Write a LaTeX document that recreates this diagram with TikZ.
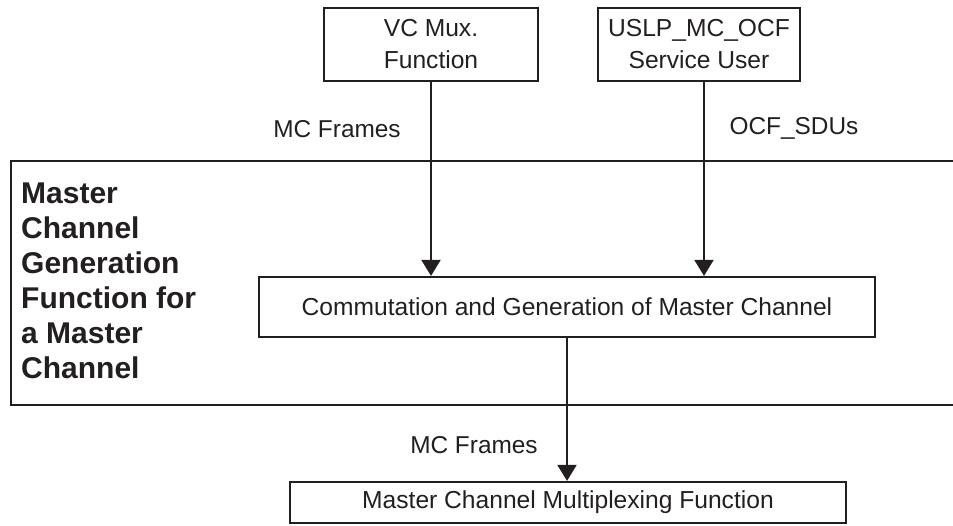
\documentclass[tikz,border=0pt]{standalone}
\usepackage{fontspec}
\setmainfont{Liberation Sans}
\usetikzlibrary{arrows.meta}
\definecolor{ink}{HTML}{231F20}
\begin{document}
\begin{tikzpicture}[x=1pt,y=-1pt,
  box/.style={draw=ink, line width=2.2pt, inner sep=0pt, align=center, text=ink,
    font=\fontsize{24.6}{32}\selectfont},
  lbl/.style={inner sep=0pt, text=ink, font=\fontsize{24.4}{29}\selectfont},
  arr/.style={draw=ink, line width=2pt, -{Triangle[length=16pt,width=19pt]}},
  frame/.style={draw=ink, line width=2.2pt}]
\useasboundingbox (0,0) rectangle (953,526);
% outer frame (open on the right)
\coordinate (ftr) at (953,161);
\coordinate (ftl) at (11,161);
\coordinate (fbl) at (11,405);
\coordinate (fbr) at (953,405);
\draw[frame] (ftr) -- (ftl) -- (fbl) -- (fbr);
% boxes
\node[box, minimum width=214pt, minimum height=73pt] (vc) at (431,44.5) {VC Mux.\\Function};
\node[box, minimum width=202pt, minimum height=73pt] (uslp) at (699,44.5) {USLP\_MC\_OCF\\Service User};
\node[box, minimum width=616pt, minimum height=60pt] (comm) at (567,307) {Commutation and Generation of Master Channel};
\node[box, minimum width=556pt, minimum height=41pt] (mux) at (568,502.5) {Master Channel Multiplexing Function};
% side title
\node[anchor=west, inner sep=0pt, align=left, text=ink,
  font=\bfseries\fontsize{30}{35}\selectfont] (title) at (21,281)
  {Master\\Channel\\Generation\\Function for\\a Master\\Channel};
% labels
\node[lbl] (l1) at (337,129) {MC Frames};
\node[lbl] (l2) at (794,128) {OCF\_SDUs};
\node[lbl] (l3) at (474,445) {MC Frames};
% connectors
\draw[arr] (vc.south) -- (vc.south |- comm.north);
\draw[arr] ([xshift=5pt]uslp.south) -- ([xshift=5pt]uslp.south |- comm.north);
\draw[arr] (comm.south) -- (comm.south |- mux.north);
\end{tikzpicture}
\end{document}
